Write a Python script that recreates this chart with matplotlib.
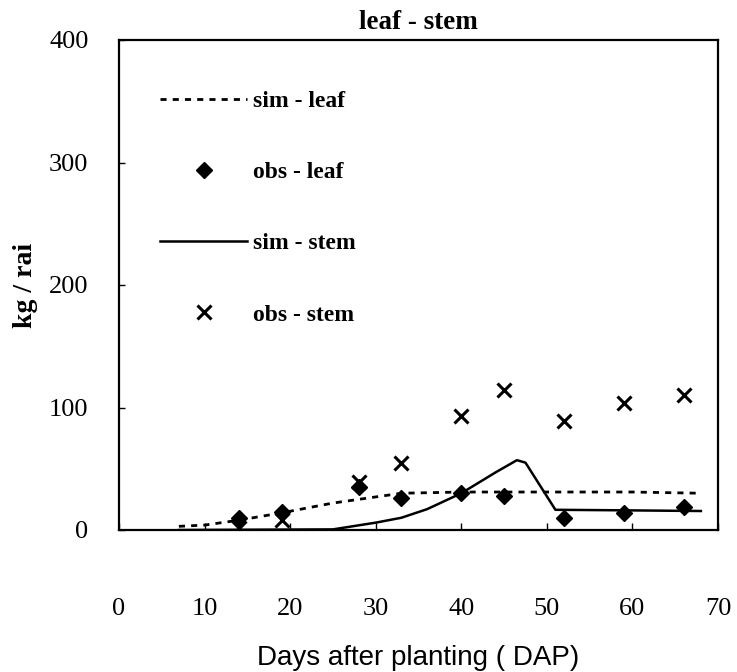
import numpy as np
import matplotlib
matplotlib.use("Agg")
import matplotlib.pyplot as plt

# observed leaf / stem dry weight (kg/rai) vs days after planting
obs_days = [14, 19, 28, 33, 40, 45, 52, 59, 66]
obs_leaf = [10, 15, 35, 26, 30, 28, 10, 14, 19]
obs_stem = [2, 8, 39, 55, 93, 114, 89, 104, 110]

# simulated curves
sim_leaf_days = [7, 10, 14, 19, 25, 28, 33, 40, 50, 60, 68]
sim_leaf = [3, 4, 8, 14, 22, 25, 30, 31, 31, 31, 30]
sim_stem_days = [7, 25, 30, 33, 36, 40, 44, 46.5, 47.5, 51, 60, 68]
sim_stem = [0, 0.5, 6, 10, 17, 30, 47, 57, 55, 16.5, 16, 15.5]

xticks = [0, 10, 20, 30, 40, 50, 60, 70]
yticks = [0, 100, 200, 300, 400]

serif = "Liberation Serif"
sans = "Liberation Sans"

fig = plt.figure(figsize=(7.37, 6.72), dpi=100)
ax = fig.add_axes([119/737, 1-530/672, 599/737, 490/672])

ax.plot(sim_leaf_days, sim_leaf, color='k', lw=2.0, linestyle=(0, (2.2, 2.2)), label="sim - leaf")
ax.plot(obs_days, obs_leaf, linestyle='none', marker='D', ms=8.5, color='k', label="obs - leaf")
ax.plot(sim_stem_days, sim_stem, color='k', lw=1.8, label="sim - stem")
ax.plot(obs_days, obs_stem, linestyle='none', marker='x', ms=10, mew=2.2, color='k', label="obs - stem")

ax.set_xlim(0, 70)
ax.set_ylim(0, 400)
ax.set_xticks(xticks)
ax.set_yticks(yticks)
ax.set_xticklabels([str(x) for x in xticks], fontfamily=serif, fontsize=19)
ax.set_yticklabels([str(y) for y in yticks], fontfamily=serif, fontsize=19)
ax.tick_params(axis='x', direction='in', length=5, width=1, pad=49)
ax.tick_params(axis='y', direction='in', length=4, width=1, pad=22)
for s in ax.spines.values():
    s.set_linewidth(1.6)

ax.set_title("leaf - stem", fontfamily=serif, fontweight='bold', fontsize=19.5, pad=8)
ax.set_ylabel("kg / rai", fontfamily=serif, fontweight='bold', fontsize=20, labelpad=8)
ax.set_xlabel("Days after planting ( DAP)", fontfamily=sans, fontsize=20, labelpad=18)

leg = ax.legend(loc='upper left', bbox_to_anchor=(0.033, 0.94), frameon=False,
                prop={'family': serif, 'weight': 'bold', 'size': 17},
                handlelength=3.7, handletextpad=0.25, labelspacing=2.1, markerscale=1.0)

plt.savefig("out.png", dpi=100)
plt.close()
